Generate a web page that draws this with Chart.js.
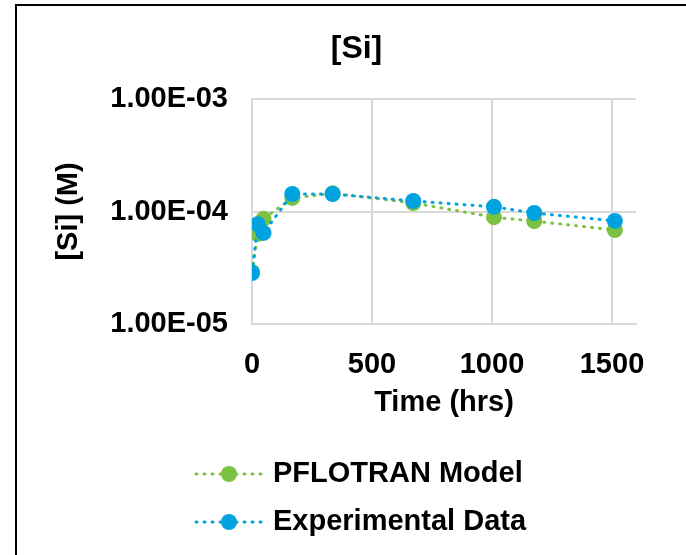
<!DOCTYPE html>
<html>
<head>
<meta charset="utf-8">
<script src="https://cdn.jsdelivr.net/npm/chart.js@4.4.1/dist/chart.umd.min.js"></script>
<style>
  html, body { margin: 0; padding: 0; background: #fff; overflow: hidden; }
  #wrap { position: relative; width: 686px; height: 555px; }
  #frame { position: absolute; left: 15px; top: 4px; width: 700px; height: 600px;
           border-left: 2px solid #000; border-top: 2px solid #000; pointer-events: none; }
</style>
</head>
<body>
<div id="wrap">
  <canvas id="chart"></canvas>
  <div id="frame"></div>
</div>
<script>
// sample times (hrs)
const TIMES = [0, 24, 48, 168, 336, 672, 1008, 1176, 1512];
// [Si] (M)
const MODEL_SI = [2.9e-5, 6.3e-5, 8.6e-5, 1.32e-4, 1.45e-4, 1.19e-4, 8.9e-5, 8.2e-5, 6.85e-5];
const EXP_SI = [2.84e-5, 7.7e-5, 6.45e-5, 1.43e-4, 1.43e-4, 1.24e-4, 1.1e-4, 9.7e-5, 8.25e-5];

const X_TICKS = [0, 500, 1000, 1500];
const Y_TICKS = [1e-5, 1e-4, 1e-3];
const Y_TICK_LABELS = ['1.00E-05', '1.00E-04', '1.00E-03'];

const GREEN = '#7dc142';
const BLUE = '#00a3e0';
const GRID = '#d9d9d9';
const FONT = "'Liberation Sans', Arial, sans-serif";

const toPoints = (ys) => TIMES.map((t, i) => ({ x: t, y: ys[i] }));

// Excel style legend: dotted line with a marker, rows stacked under the plot
const stackedLegend = {
  id: 'stackedLegend',
  afterDraw(chart) {
    const ctx = chart.ctx;
    const rows = [474, 522];
    chart.data.datasets.forEach((ds, i) => {
      const y = rows[i];
      ctx.save();
      ctx.strokeStyle = ds.borderColor;
      ctx.lineWidth = ds.borderWidth;
      ctx.lineCap = 'round';
      ctx.setLineDash(ds.borderDash);
      ctx.beginPath();
      ctx.moveTo(196, y);
      ctx.lineTo(264, y);
      ctx.stroke();
      ctx.setLineDash([]);
      ctx.fillStyle = ds.pointBackgroundColor;
      ctx.beginPath();
      ctx.arc(229, y, ds.pointRadius, 0, Math.PI * 2);
      ctx.fill();
      ctx.fillStyle = '#000';
      ctx.font = "bold 29px " + FONT;
      ctx.textBaseline = 'middle';
      ctx.textAlign = 'left';
      ctx.fillText(ds.label, 273, y);
      ctx.restore();
    });
  }
};

new Chart(document.getElementById('chart'), {
  type: 'scatter',
  data: {
    datasets: [
      {
        label: 'PFLOTRAN Model',
        data: toPoints(MODEL_SI),
        showLine: true,
        borderColor: GREEN,
        backgroundColor: GREEN,
        pointBackgroundColor: GREEN,
        borderWidth: 3,
        borderDash: [1, 7],
        borderCapStyle: 'round',
        pointRadius: 8,
        pointBorderWidth: 0,
        order: 1
      },
      {
        label: 'Experimental Data',
        data: toPoints(EXP_SI),
        showLine: true,
        borderColor: BLUE,
        backgroundColor: BLUE,
        pointBackgroundColor: BLUE,
        borderWidth: 3,
        borderDash: [1, 7],
        borderCapStyle: 'round',
        pointRadius: 8,
        pointBorderWidth: 0,
        order: 0
      }
    ]
  },
  options: {
    responsive: true,
    maintainAspectRatio: false,
    animation: false,
    layout: { padding: { left: 77, right: 50, top: 0, bottom: 131 } },
    plugins: {
      legend: { display: false },
      tooltip: { enabled: false },
      title: {
        display: true,
        text: '[Si]',
        color: '#000',
        font: { family: FONT, size: 32, weight: 'bold' },
        padding: { top: 30, bottom: 30.6 }
      }
    },
    scales: {
      x: {
        type: 'linear',
        min: 0,
        max: 1600,
        afterBuildTicks: (scale) => { scale.ticks = X_TICKS.map(v => ({ value: v })); },
        afterFit: (scale) => { scale.height = 100; },
        grid: { color: GRID, lineWidth: 2, drawTicks: false },
        border: { color: GRID, width: 2 },
        ticks: {
          color: '#000',
          padding: 24,
          maxRotation: 0,
          autoSkip: false,
          font: { family: FONT, size: 29, weight: 'bold' },
          callback: (v) => String(v)
        },
        title: {
          display: true,
          text: 'Time (hrs)',
          color: '#000',
          font: { family: FONT, size: 29, weight: 'bold' },
          padding: { top: 0, bottom: 4 }
        }
      },
      y: {
        type: 'logarithmic',
        min: 1e-5,
        max: 1e-3,
        afterBuildTicks: (scale) => { scale.ticks = Y_TICKS.map(v => ({ value: v })); },
        afterFit: (scale) => { scale.width = 175; },
        grid: { color: GRID, lineWidth: 2, drawTicks: false },
        border: { color: GRID, width: 2 },
        ticks: {
          color: '#000',
          padding: 24,
          autoSkip: false,
          font: { family: FONT, size: 29, weight: 'bold' },
          callback: (v, i) => Y_TICK_LABELS[i]
        },
        title: {
          display: true,
          text: '[Si] (M)',
          color: '#000',
          font: { family: FONT, size: 29, weight: 'bold' },
          padding: { top: -25.4, bottom: 0 }
        }
      }
    }
  },
  plugins: [stackedLegend]
});
</script>
</body>
</html>
